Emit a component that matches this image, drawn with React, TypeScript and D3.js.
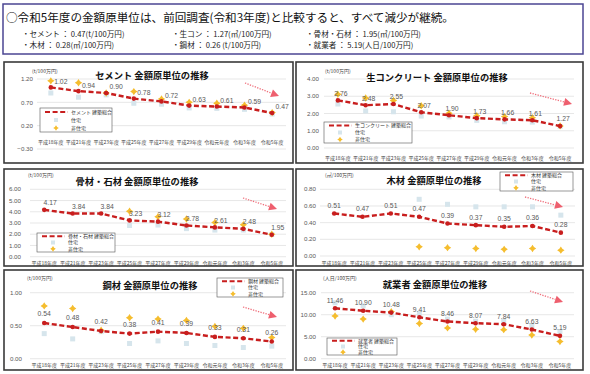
import * as d3 from 'd3';

// カテゴリ（調査年度）
const categories = ['平成18年度', '平成21年度', '平成23年度', '平成25年度', '平成27年度', '平成29年度', '令和元年度', '令和3年度', '令和5年度'];

// セメント
const cementTotal = [1.02, 0.94, 0.90, 0.78, 0.72, 0.63, 0.61, 0.59, 0.47];
const cementHousing = [0.90, 0.81, 0.86, 0.68, 0.66, 0.58, 0.57, 0.55, 0.45];
const cementNonHousing = [1.16, 1.12, 0.90, 0.93, 0.77, 0.70, 0.68, 0.64, 0.48];
const cementTicks = [-0.3, 0.2, 0.7, 1.2];

// 生コンクリート
const concreteTotal = [2.76, 2.48, 2.55, 2.07, 1.90, 1.73, 1.66, 1.61, 1.27];
const concreteHousing = [2.55, 2.15, 2.10, 1.85, 1.80, 1.60, 1.52, 1.50, 1.25];
const concreteNonHousing = [3.12, 2.90, 2.75, 2.45, 2.02, 1.87, 1.82, 1.75, 1.28];
const concreteTicks = [0, 1, 2, 3, 4];

// 骨材・石材
const aggregateTotal = [4.17, 3.84, 3.84, 3.23, 3.12, 2.78, 2.61, 2.48, 1.95];
const aggregateHousing = [null, null, null, 2.78, 2.82, 2.50, 2.37, 2.37, 1.98];
const aggregateNonHousing = [null, null, null, 4.05, 3.55, 3.35, 3.05, 2.85, 2.00];
const aggregateTicks = [0, 1, 2, 3, 4, 5, 6];

// 木材
const woodTotal = [0.51, 0.47, 0.51, 0.47, 0.39, 0.37, 0.35, 0.36, 0.28];
const woodHousing = [null, null, null, 0.68, 0.62, 0.59, 0.59, 0.59, 0.49];
const woodNonHousing = [null, null, null, 0.11, 0.10, 0.09, 0.08, 0.09, 0.07];
const woodTicks = [0, 0.2, 0.4, 0.6, 0.8];

// 鋼材
const steelTotal = [0.54, 0.48, 0.42, 0.38, 0.41, 0.39, 0.33, 0.31, 0.26];
const steelHousing = [0.38, 0.30, 0.41, 0.23, 0.27, 0.23, 0.20, 0.17, 0.19];
const steelNonHousing = [0.80, 0.76, 0.43, 0.62, 0.60, 0.58, 0.49, 0.46, 0.32];
const steelTicks = [0, 0.5, 1];

// 就業者
const workerTotal = [11.46, 10.90, 10.48, 9.41, 8.46, 8.07, 7.84, 6.63, 5.19];
const workerHousing = [12.7, 12.0, 10.0, 10.3, 9.0, 8.5, 8.5, 7.5, 6.2];
const workerNonHousing = [9.7, 9.0, 10.7, 8.0, 7.0, 6.7, 6.6, 5.4, 3.9];
const workerTicks = [0, 5, 10, 15];

const headline = '○令和5年度の金額原単位は、前回調査(令和3年度)と比較すると、すべて減少が継続。';
const summaryRow1 = ['・セメント ： 0.47(t/100万円)', '・生コン ： 1.27(㎥/100万円)', '・骨材・石材 ： 1.95(㎥/100万円)'];
const summaryRow2 = ['・木材 ： 0.28(㎥/100万円)', '・鋼材 ： 0.26 (t/100万円)', '・就業者 ： 5.19(人日/100万円)'];

const FONT_JP = '"Noto Sans CJK JP", "Noto Sans", sans-serif';
const FONT_NUM = '"Liberation Sans", Arial, sans-serif';
const RED = '#c81e1e';
const GOLD = '#f5bd2e';
const PALE = '#d6e5ec';

// パネルごとの配置（レイアウトのみ）
const panels = [
  { title: 'セメント 金額原単位の推移', name: 'セメント 建築総合', unit: '(t/100万円)',
    total: cementTotal, housing: cementHousing, nonHousing: cementNonHousing, ticks: cementTicks,
    box: [4, 62, 293, 163], xRange: [37, 286], yPx: [149, 79], tickX: 33, unitPos: [32, 73],
    titlePos: [152, 76], legend: [40, 108, 72, 24], arrow: [245, 83, 279, 96], labelOff: [10, -6], xLabelY: 142 },
  { title: '生コンクリート 金額原単位の推移', name: '生コンクリート 建築総合', unit: '(t/100万円)',
    total: concreteTotal, housing: concreteHousing, nonHousing: concreteNonHousing, ticks: concreteTicks,
    box: [296, 62, 583, 163], xRange: [324, 574], yPx: [148, 79], tickX: 319, unitPos: [325, 73],
    titlePos: [437, 78], legend: [324, 122, 88, 21], arrow: [530, 93, 572, 104], labelOff: [3, -7], xLabelY: 158 },
  { title: '骨材・石材 金額原単位の推移', name: '骨材・石材 建築総合', unit: '(t/100万円)',
    total: aggregateTotal, housing: aggregateHousing, nonHousing: aggregateNonHousing, ticks: aggregateTicks,
    box: [4, 169, 293, 266], xRange: [30, 286], yPx: [256.7, 189.3], tickX: 21, unitPos: [28, 177],
    titlePos: [137, 182], legend: [37, 233, 78, 19], arrow: [243, 198, 277, 209], labelOff: [6, -7], xLabelY: 263 },
  { title: '木材 金額原単位の推移', name: '木材 建築総合', unit: '(㎥/100万円)',
    total: woodTotal, housing: woodHousing, nonHousing: woodNonHousing, ticks: woodTicks,
    box: [296, 169, 583, 266], xRange: [320, 575], yPx: [256, 189.3], tickX: 316, unitPos: [325, 177],
    titlePos: [434, 181], legend: [500, 172, 73, 19], arrow: [525, 197, 563, 207], labelOff: [0, -8], xLabelY: 263 },
  { title: '鋼材 金額原単位の推移', name: '鋼材 建築総合', unit: '(t/100万円)',
    total: steelTotal, housing: steelHousing, nonHousing: steelNonHousing, ticks: steelTicks,
    box: [4, 270, 293, 370], xRange: [30, 286], yPx: [358.7, 292.7], tickX: 22, unitPos: [27, 280],
    titlePos: [150, 286], legend: [217, 278, 66, 19], arrow: [243, 307, 277, 317], labelOff: [0, -9], xLabelY: 365 },
  { title: '就業者 金額原単位の推移', name: '就業者 建築総合', unit: '(人日/100万円)',
    total: workerTotal, housing: workerHousing, nonHousing: workerNonHousing, ticks: workerTicks,
    box: [296, 270, 583, 370], xRange: [321, 574], yPx: [358.7, 292.7], tickX: 316, unitPos: [323, 280],
    titlePos: [435, 285], legend: [327, 338, 70, 17], arrow: [530, 291, 563, 302], labelOff: [0, -8], xLabelY: 365 },
];

// 4つ角の星形マーカー
const star = (cx, cy, r) => {
  const k = r * 0.4;
  return `M${cx},${cy - r}L${cx + k},${cy - k}L${cx + r},${cy}L${cx + k},${cy + k}L${cx},${cy + r}L${cx - k},${cy + k}L${cx - r},${cy}L${cx - k},${cy - k}Z`;
};

const Arrow = ({ a }) => {
  const [x1, y1, x2, y2] = a;
  const ang = Math.atan2(y2 - y1, x2 - x1);
  const L = 8, W = 4;
  const bx = x2 - L * Math.cos(ang), by = y2 - L * Math.sin(ang);
  const px = -Math.sin(ang) * W, py = Math.cos(ang) * W;
  return (
    <g>
      <line x1={x1} y1={y1} x2={bx} y2={by} stroke="#ef6f7b" strokeWidth={1.3} strokeDasharray="1.3,1.3" />
      <path d={`M${x2},${y2}L${bx + px},${by + py}L${bx - px},${by - py}Z`} fill="#ee5f6e" />
    </g>
  );
};

const ChartPanel = ({ p }) => {
  const x = d3.scalePoint().domain(categories).range(p.xRange).padding(0.5);
  const y = d3.scaleLinear().domain(d3.extent(p.ticks)).range(p.yPx);
  const fmt = d3.format('.2f');
  const line = d3.line().x((d, i) => x(categories[i])).y(d => y(d));
  const [bx0, by0, bx1, by1] = p.box;
  const [lx, ly, lw, lh] = p.legend;
  const rowY = [ly + lh / 6, ly + lh / 2, ly + lh * 5 / 6];

  return (
    <g>
      <rect x={bx0} y={by0} width={bx1 - bx0} height={by1 - by0} fill="#fff" stroke="#3a3a3a" strokeWidth={1.6} />
      {p.ticks.map(t => (
        <g key={t}>
          <line x1={p.xRange[0]} x2={p.xRange[1]} y1={y(t)} y2={y(t)} stroke="#dcdcdc" strokeWidth={0.7} />
          <text x={p.tickX} y={y(t)} dy="0.35em" textAnchor="end" fontSize={6.2} fontFamily={FONT_NUM} fill="#595959">{fmt(t)}</text>
        </g>
      ))}
      {categories.map(c => (
        <text key={c} x={x(c)} y={p.xLabelY} textAnchor="middle" dy="0.35em" fontSize={5} fontFamily={FONT_JP} fill="#404040">{c}</text>
      ))}
      <text x={p.unitPos[0]} y={p.unitPos[1]} fontSize={5} fontFamily={FONT_JP} fill="#404040">{p.unit}</text>
      <text x={p.titlePos[0]} y={p.titlePos[1]} textAnchor="middle" dy="0.35em" fontSize={9.3} fontWeight="bold" fontFamily={FONT_JP} fill="#111">{p.title}</text>

      {p.housing.map((v, i) => v == null ? null : (
        <rect key={'h' + i} x={x(categories[i]) - 2.5} y={y(v) - 2.5} width={5} height={5} fill={PALE} />
      ))}
      {p.nonHousing.map((v, i) => v == null ? null : (
        <path key={'n' + i} d={star(x(categories[i]), y(v), 3.7)} fill={GOLD} />
      ))}
      <path d={line(p.total)} fill="none" stroke={RED} strokeWidth={2.4} strokeDasharray="5,2.6" />
      {p.total.map((v, i) => (
        <circle key={'t' + i} cx={x(categories[i])} cy={y(v)} r={2.3} fill={RED} />
      ))}
      {p.total.map((v, i) => (
        <text key={'l' + i} x={x(categories[i]) + p.labelOff[0]} y={y(v) + p.labelOff[1]} textAnchor="middle" dy="0.35em"
          fontSize={6.8} fontFamily={FONT_NUM} fill="#595959">{fmt(v)}</text>
      ))}

      <Arrow a={p.arrow} />

      <rect x={lx} y={ly} width={lw} height={lh} fill="#fff" stroke="#555" strokeWidth={0.6} />
      <line x1={lx + 5} x2={lx + 28} y1={rowY[0]} y2={rowY[0]} stroke={RED} strokeWidth={2} strokeDasharray="5,2.6" />
      <rect x={lx + 14} y={rowY[1] - 2} width={4} height={4} fill={PALE} />
      <path d={star(lx + 16, rowY[2], 2.8)} fill={GOLD} />
      {[p.name, '住宅', '非住宅'].map((t, i) => (
        <text key={t} x={lx + 31} y={rowY[i]} dy="0.35em" fontSize={5} fontFamily={FONT_JP} fill="#333">{t}</text>
      ))}
    </g>
  );
};

const App = () => {
  const colX = [22, 172, 306];
  return (
    <svg width={590} height={374} style={{ position: 'absolute', left: 0, top: 0, background: '#fff' }}>
      <rect x={0} y={0} width={590} height={374} fill="#fff" />
      <rect x={3} y={4} width={580} height={50} fill="#fff" stroke="#4b4593" strokeWidth={1.5} />
      <text x={6} y={18} dy="0.35em" fontSize={11.6} fontFamily={FONT_JP} fill="#111">{headline}</text>
      {summaryRow1.map((t, i) => (
        <text key={t} x={colX[i]} y={34} dy="0.35em" fontSize={7.6} fontFamily={FONT_JP} fill="#222">{t}</text>
      ))}
      {summaryRow2.map((t, i) => (
        <text key={t} x={colX[i]} y={45} dy="0.35em" fontSize={7.6} fontFamily={FONT_JP} fill="#222">{t}</text>
      ))}
      {panels.map(p => <ChartPanel key={p.title} p={p} />)}
    </svg>
  );
};

export default App;
